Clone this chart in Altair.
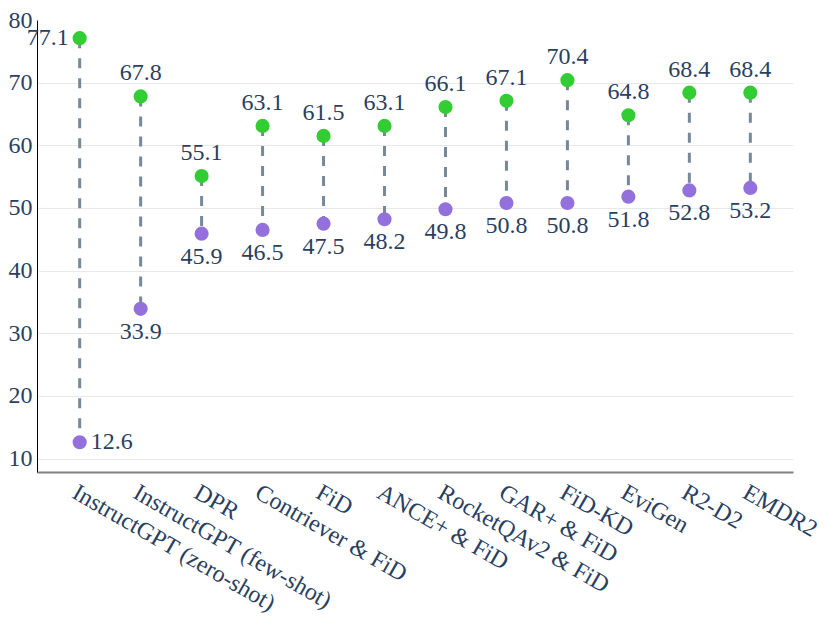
import altair as alt
import pandas as pd

models = [
    "InstructGPT (zero-shot)", "InstructGPT (few-shot)", "DPR", "Contriever & FiD",
    "FiD", "ANCE+ & FiD", "RocketQAv2 & FiD", "GAR+ & FiD", "FiD-KD", "EviGen",
    "R2-D2", "EMDR2",
]
high = [77.1, 67.8, 55.1, 63.1, 61.5, 63.1, 66.1, 67.1, 70.4, 64.8, 68.4, 68.4]
low = [12.6, 33.9, 45.9, 46.5, 47.5, 48.2, 49.8, 50.8, 50.8, 51.8, 52.8, 53.2]
y_ticks = [10, 20, 30, 40, 50, 60, 70, 80]

df = pd.DataFrame({"model": models, "high": high, "low": low, "idx": list(range(len(models)))})

FONT = "Liberation Serif"
TXT = "#2a3f5f"
FS = 24

x_enc = alt.X(
    "model:N", sort=models, title=None,
    scale=alt.Scale(type="point", padding=0.7),
    axis=alt.Axis(labelAngle=30, labelAlign="left", labelBaseline="top", labelPadding=8,
                  ticks=False, grid=False, domainColor="#808080", domainWidth=2,
                  labelFont=FONT, labelFontSize=FS, labelColor=TXT, labelLimit=0),
)
y_scale = alt.Scale(domain=[7.86, 80], nice=False, zero=False)
y_axis = alt.Axis(values=y_ticks, title=None, ticks=False, grid=True, gridColor="#e8e8e8",
                  gridOpacity={"expr": "datum.value == 80 ? 0 : 1"},
                  domainColor="#000000", domainWidth=1, labelPadding=5,
                  labelFont=FONT, labelFontSize=FS, labelColor=TXT)

base = alt.Chart(df).encode(x=x_enc)

rule = base.mark_rule(color="#778899", strokeWidth=3, strokeDash=[10, 10]).encode(
    y=alt.Y("high:Q", scale=y_scale, axis=y_axis), y2="low:Q"
)
pts_hi = base.mark_circle(color="#32cd32", opacity=1, size=200).encode(y=alt.Y("high:Q", scale=y_scale))
pts_lo = base.mark_circle(color="#9370db", opacity=1, size=200).encode(y=alt.Y("low:Q", scale=y_scale))

txt_style = dict(font=FONT, fontSize=FS, color=TXT)
t_hi = base.transform_filter("datum.idx > 0").mark_text(dy=-23, **txt_style).encode(
    y=alt.Y("high:Q", scale=y_scale), text=alt.Text("high:Q", format=".1f"))
t_hi0 = base.transform_filter("datum.idx == 0").mark_text(dx=-11, align="right", **txt_style).encode(
    y=alt.Y("high:Q", scale=y_scale), text=alt.Text("high:Q", format=".1f"))
t_lo = base.transform_filter("datum.idx > 0").mark_text(dy=23, **txt_style).encode(
    y=alt.Y("low:Q", scale=y_scale), text=alt.Text("low:Q", format=".1f"))
t_lo0 = base.transform_filter("datum.idx == 0").mark_text(dx=11, align="left", **txt_style).encode(
    y=alt.Y("low:Q", scale=y_scale), text=alt.Text("low:Q", format=".1f"))

chart = alt.layer(rule, pts_hi, pts_lo, t_hi, t_hi0, t_lo, t_lo0).properties(
    width=756, height=452,
    background="white",
    autosize=alt.AutoSizeParams(type="none"),
    padding={"left": 29, "top": 12, "right": 29, "bottom": 143},
).configure_view(stroke=None)

chart.save("out.html", embed_options={"renderer": "svg", "actions": False})
